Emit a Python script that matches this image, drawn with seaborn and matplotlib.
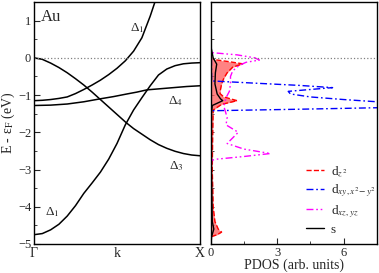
import numpy as np
import pandas as pd
import matplotlib
matplotlib.use("Agg")
import matplotlib.pyplot as plt
import seaborn as sns

# ---- band structure data (k from Gamma=0 to X=1) ----
band_a_k = [0, 0.05, 0.1, 0.15, 0.2, 0.25, 0.3, 0.35, 0.4, 0.45, 0.5, 0.55, 0.6, 0.65, 0.7, 0.73]
band_a_e = [-1.15, -1.14, -1.12, -1.09, -1.05, -0.96, -0.85, -0.73, -0.6, -0.45, -0.28, -0.08,
            0.18, 0.54, 1.12, 1.52]
band_b_k = [0, 0.1, 0.2, 0.3, 0.4, 0.48, 0.56, 0.62, 0.68, 0.76, 0.84, 0.92, 1.0]
band_b_e = [-1.28, -1.27, -1.24, -1.18, -1.1, -1.04, -0.97, -0.92, -0.86, -0.83, -0.8, -0.77, -0.75]
band_c_k = [0, 0.05, 0.1, 0.15, 0.2, 0.25, 0.3, 0.35, 0.4, 0.45, 0.5, 0.555, 0.6, 0.65, 0.7,
            0.75, 0.8, 0.85, 0.9, 0.95, 1.0]
band_c_e = [0.0, -0.04, -0.14, -0.26, -0.4, -0.56, -0.73, -0.92, -1.12, -1.32, -1.52, -1.74,
            -1.9, -2.05, -2.2, -2.33, -2.43, -2.51, -2.57, -2.61, -2.63]
band_d_k = [0, 0.05, 0.1, 0.15, 0.2, 0.25, 0.3, 0.35, 0.4, 0.45, 0.5, 0.55, 0.6, 0.65, 0.7,
            0.75, 0.8, 0.85, 0.9, 0.95, 1.0]
band_d_e = [-4.75, -4.72, -4.62, -4.47, -4.25, -3.97, -3.64, -3.36, -3.07, -2.72, -2.3, -1.8,
            -1.4, -1.07, -0.75, -0.46, -0.3, -0.21, -0.16, -0.14, -0.13]

k_ticks = [0, 0.5, 1.0]
k_labels = ["Γ", "k", "X"]

# ---- PDOS data ----
dz2_e = [0.05, 0.0, -0.05, -0.1, -0.16, -0.25, -0.4, -0.55, -0.7, -0.85, -0.96, -1.05, -1.15,
         -1.25, -1.4, -2.0, -3.0, -4.0, -4.4, -4.6, -4.68, -4.75, -4.8, -5.0]
dz2_v = [0.0, 0.05, 0.2, 0.8, 1.45, 1.0, 0.75, 0.6, 0.5, 0.45, 0.43, 0.6, 1.2,
         0.5, 0.12, 0.1, 0.08, 0.12, 0.2, 0.35, 0.5, 0.3, 0.05, 0.0]
s_e = [0.3, 0.0, -0.17, -0.4, -0.7, -0.97, -1.1, -1.15, -1.22, -1.28, -1.5, -3.0, -4.4, -4.6, -4.8, -5.0]
s_v = [0.02, 0.12, 0.28, 0.22, 0.2, 0.3, 0.45, 0.55, 0.3, 0.08, 0.04, 0.04, 0.08, 0.15, 0.05, 0.02]
dxy_e = [1.5, -0.62, -0.68, -0.74, -0.8, -0.85, -0.9, -0.97, -1.05, -1.12, -1.18, -1.25, -1.3,
         -1.34, -1.38, -1.42, -1.5, -5.0]
dxy_v = [0.02, 0.05, 2.0, 4.0, 5.5, 4.5, 3.5, 3.6, 4.5, 6.0, 7.5, 9.0, 9.0,
         7.5, 4.0, 0.1, 0.02, 0.02]
dxz_e = [1.5, 0.2, 0.14, 0.08, 0.0, -0.06, -0.12, -0.2, -0.35, -0.5, -0.7, -0.9, -1.07, -1.3,
         -1.6, -1.8, -2.0, -2.15, -2.3, -2.45, -2.57, -2.65, -2.72, -2.75, -3.0, -5.0]
dxz_v = [0.02, 0.02, 0.05, 1.2, 2.0, 2.2, 1.6, 1.3, 1.0, 0.9, 0.9, 0.85, 0.7, 0.6,
         0.75, 0.7, 1.25, 1.0, 0.75, 1.5, 2.7, 1.5, 0.3, 0.05, 0.02, 0.02]

sns.set_theme(style="ticks")
plt.rcParams["font.family"] = ["Liberation Serif", "DejaVu Serif"]
plt.rcParams["mathtext.fontset"] = "stix"
plt.rcParams["xtick.direction"] = "in"
plt.rcParams["ytick.direction"] = "in"

fig = plt.figure(figsize=(3.79, 2.73), dpi=100)
ax1 = fig.add_axes([34/379, 29/273, (200-34)/379, (244-2)/273])
ax2 = fig.add_axes([210.5/379, 29/273, (377-210.5)/379, (244-2)/273])

lw = 1.1
for kk, ee in [(band_a_k, band_a_e), (band_b_k, band_b_e), (band_c_k, band_c_e), (band_d_k, band_d_e)]:
    sns.lineplot(x=kk, y=ee, ax=ax1, color="black", lw=lw, sort=False, estimator=None)
ax1.axhline(0, color="gray", ls=":", lw=0.9)
ax1.set_xlim(0, 1)
ax1.set_ylim(-5, 1.5)
ax1.set_xticks(k_ticks)
ax1.set_xticklabels(k_labels)
ax1.tick_params(axis="x", length=0, labelsize=10, pad=2)
ax1.set_yticks([-5, -4, -3, -2, -1, 0, 1])
ax1.set_yticks(np.arange(-5, 1.6, 0.5), minor=True)
ax1.tick_params(axis="y", which="major", length=4, width=0.8, labelsize=9, pad=2)
ax1.tick_params(axis="y", which="minor", length=2, width=0.6)
ax1.set_ylabel("E - ε$_\\mathrm{F}$ (eV)", fontsize=10, labelpad=1)
ax1.text(0.04, 0.97, "Au", transform=ax1.transAxes, fontsize=12, va="top", ha="left")
ax1.text(0.62, 0.8, "Δ$_1$", fontsize=9.5, ha="center", va="center")
ax1.text(0.85, -1.15, "Δ$_4$", fontsize=9.5, ha="center", va="center")
ax1.text(0.86, -2.9, "Δ$_3$", fontsize=9.5, ha="center", va="center")
ax1.text(0.11, -4.15, "Δ$_1$", fontsize=9.5, ha="center", va="center")

# PDOS
ax2.fill_betweenx(dz2_e, 0, dz2_v, color="#ff5a5a", alpha=0.75, lw=0)
sns.lineplot(x=dz2_v, y=dz2_e, ax=ax2, color="red", lw=1.0, ls="--", sort=False,
             estimator=None, label="d$_{z^{\\,2}}$")
sns.lineplot(x=dxy_v, y=dxy_e, ax=ax2, color="blue", lw=1.0, sort=False, estimator=None,
             label="d$_{xy,x^2\\!-y^2}$").lines[-1].set_dashes([5, 2, 1.2, 2])
l3 = sns.lineplot(x=dxz_v, y=dxz_e, ax=ax2, color="magenta", lw=1.0, sort=False, estimator=None,
                  label="d$_{xz,yz}$").lines[-1]
l3.set_dashes([5, 2, 1.2, 2, 1.2, 2])
sns.lineplot(x=s_v, y=s_e, ax=ax2, color="black", lw=1.0, sort=False, estimator=None, label="s")
ax2.axhline(0, color="gray", ls=":", lw=0.9)
ax2.set_xlim(0, 7.5)
ax2.set_ylim(-5, 1.5)
ax2.set_xticks([0, 3, 6])
ax2.set_xticks(np.arange(0, 7.6, 1.5), minor=True)
ax2.tick_params(axis="x", which="major", length=4, width=0.8, labelsize=9, pad=2)
ax2.tick_params(axis="x", which="minor", length=2, width=0.6)
ax2.set_yticks([-5, -4, -3, -2, -1, 0, 1])
ax2.set_yticks(np.arange(-5, 1.6, 0.5), minor=True)
ax2.tick_params(axis="y", which="both", labelleft=False, length=2.5, width=0.6)
ax2.set_xlabel("PDOS (arb. units)", fontsize=10, labelpad=0)
ax2.set_ylabel("")
leg = ax2.legend(loc="lower right", bbox_to_anchor=(1.04, 0.0), frameon=False, fontsize=9.5,
                 handlelength=1.4, handletextpad=0.5, labelspacing=0.3, borderaxespad=0.2)

for ax in (ax1, ax2):
    for sp in ax.spines.values():
        sp.set_visible(True)
        sp.set_linewidth(1.0)
        sp.set_color("black")

fig.savefig("out.png", dpi=100)
